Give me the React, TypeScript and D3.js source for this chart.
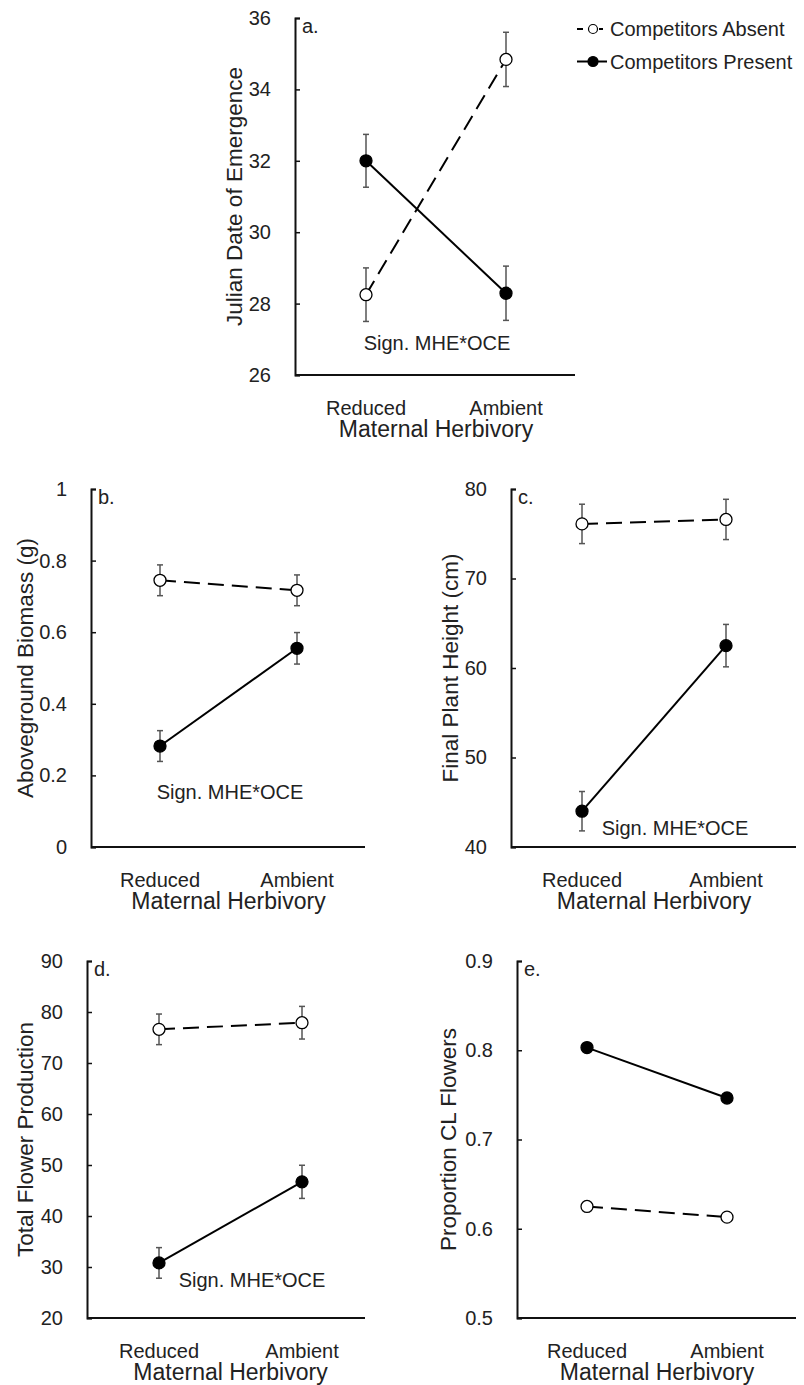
import React, { useEffect, useRef } from 'react';
import * as d3 from 'd3';

// data
const categories = ['Reduced', 'Ambient'];
const seriesNames = ['Competitors Absent', 'Competitors Present'];

const emergenceAbsent = [28.25, 34.84];
const emergenceAbsentErr = [0.75, 0.76];
const emergencePresent = [32.0, 28.29];
const emergencePresentErr = [0.74, 0.76];

const biomassAbsent = [0.745, 0.717];
const biomassAbsentErr = [0.043, 0.043];
const biomassPresent = [0.282, 0.555];
const biomassPresentErr = [0.043, 0.044];

const heightAbsent = [76.1, 76.6];
const heightAbsentErr = [2.2, 2.25];
const heightPresent = [44.0, 62.5];
const heightPresentErr = [2.2, 2.37];

const flowersAbsent = [76.6, 77.9];
const flowersAbsentErr = [3.0, 3.2];
const flowersPresent = [30.8, 46.7];
const flowersPresentErr = [3.0, 3.25];

const clAbsent = [0.625, 0.613];
const clPresent = [0.803, 0.7465];

const emergenceTicks = [26, 28, 30, 32, 34, 36];
const biomassTicks = [0, 0.2, 0.4, 0.6, 0.8, 1];
const heightTicks = [40, 50, 60, 70, 80];
const flowersTicks = [20, 30, 40, 50, 60, 70, 80, 90];
const clTicks = [0.5, 0.6, 0.7, 0.8, 0.9];

const xTitle = 'Maternal Herbivory';
const noteText = 'Sign. MHE*OCE';

const FONT = '"Liberation Sans", Arial, Helvetica, sans-serif';

// panel layout (pixels)
const panels = [
  {
    tag: 'a.', title: 'Julian Date of Emergence', domain: [26, 36], ticks: emergenceTicks, fmt: (d) => String(d),
    absent: emergenceAbsent, absentErr: emergenceAbsentErr, present: emergencePresent, presentErr: emergencePresentErr,
    left: 295, right: 575, top: 18, bottom: 375, cats: [366, 506], titleOff: 61, note: { x: 437, y: 350 },
  },
  {
    tag: 'b.', title: 'Aboveground Biomass (g)', domain: [0, 1], ticks: biomassTicks, fmt: (d) => String(d),
    absent: biomassAbsent, absentErr: biomassAbsentErr, present: biomassPresent, presentErr: biomassPresentErr,
    left: 91, right: 365, top: 489, bottom: 847, cats: [160, 297], titleOff: 66, note: { x: 230, y: 799 },
  },
  {
    tag: 'c.', title: 'Final Plant Height (cm)', domain: [40, 80], ticks: heightTicks, fmt: (d) => String(d),
    absent: heightAbsent, absentErr: heightAbsentErr, present: heightPresent, presentErr: heightPresentErr,
    left: 511, right: 796, top: 489, bottom: 847, cats: [582, 726], titleOff: 61, note: { x: 675, y: 835 },
  },
  {
    tag: 'd.', title: 'Total Flower Production', domain: [20, 90], ticks: flowersTicks, fmt: (d) => String(d),
    absent: flowersAbsent, absentErr: flowersAbsentErr, present: flowersPresent, presentErr: flowersPresentErr,
    left: 87, right: 365, top: 961, bottom: 1318, cats: [159, 302], titleOff: 62, note: { x: 252, y: 1287 },
  },
  {
    tag: 'e.', title: 'Proportion CL Flowers', domain: [0.5, 0.9], ticks: clTicks, fmt: d3.format('.1f'),
    absent: clAbsent, absentErr: null, present: clPresent, presentErr: null,
    left: 517, right: 796, top: 961, bottom: 1318, cats: [587, 727], titleOff: 69, note: null,
  },
];

const drawPanel = (svg, p) => {
  const x = d3.scalePoint().domain(categories).range(p.cats);
  const y = d3.scaleLinear().domain(p.domain).range([p.bottom, p.top]);
  const g = svg.append('g');

  // y axis with inside ticks
  const yAxis = d3.axisLeft(y).tickValues(p.ticks).tickFormat(p.fmt).tickSizeInner(-5).tickSizeOuter(-5).tickPadding(24);
  const ya = g.append('g').attr('transform', `translate(${p.left},0)`).call(yAxis);
  ya.select('.domain').attr('stroke', '#111').attr('stroke-width', 2);
  ya.selectAll('.tick line').attr('stroke', '#111').attr('stroke-width', 1.5);
  ya.selectAll('.tick text')
    .attr('font-family', FONT)
    .attr('font-size', 20)
    .attr('fill', '#222');

  // x axis, no ticks
  g.append('line')
    .attr('x1', p.left).attr('x2', p.right)
    .attr('y1', p.bottom).attr('y2', p.bottom)
    .attr('stroke', '#111').attr('stroke-width', 2);

  g.selectAll('.cat')
    .data(categories)
    .enter()
    .append('text')
    .attr('x', (d) => x(d))
    .attr('y', p.bottom + 40)
    .attr('text-anchor', 'middle')
    .attr('font-family', FONT)
    .attr('font-size', 20)
    .attr('fill', '#222')
    .text((d) => d);

  g.append('text')
    .attr('x', (p.cats[0] + p.cats[1]) / 2)
    .attr('y', p.bottom + 62)
    .attr('text-anchor', 'middle')
    .attr('font-family', FONT)
    .attr('font-size', 23)
    .attr('fill', '#222')
    .text(xTitle);

  // y title
  const cy = (p.top + p.bottom) / 2;
  g.append('text')
    .attr('transform', `translate(${p.left - p.titleOff},${cy}) rotate(-90)`)
    .attr('text-anchor', 'middle')
    .attr('dominant-baseline', 'central')
    .attr('font-family', FONT)
    .attr('font-size', 22.5)
    .attr('fill', '#222')
    .text(p.title);

  // panel tag
  g.append('text')
    .attr('x', p.left + 7)
    .attr('y', p.top + 15)
    .attr('font-family', FONT)
    .attr('font-size', 20)
    .attr('fill', '#222')
    .text(p.tag);

  if (p.note) {
    g.append('text')
      .attr('x', p.note.x)
      .attr('y', p.note.y)
      .attr('text-anchor', 'middle')
      .attr('font-family', FONT)
      .attr('font-size', 20)
      .attr('fill', '#222')
      .text(noteText);
  }

  const series = [
    { vals: p.absent, errs: p.absentErr, dash: '16,8', fill: '#fff' },
    { vals: p.present, errs: p.presentErr, dash: null, fill: '#000' },
  ];

  // error bars
  series.forEach((s) => {
    if (!s.errs) return;
    categories.forEach((c, i) => {
      const cx = x(c);
      const y1 = y(s.vals[i] + s.errs[i]);
      const y2 = y(s.vals[i] - s.errs[i]);
      g.append('line').attr('x1', cx).attr('x2', cx).attr('y1', y1).attr('y2', y2)
        .attr('stroke', '#555').attr('stroke-width', 1.5);
      [y1, y2].forEach((yy) => {
        g.append('line').attr('x1', cx - 3).attr('x2', cx + 3).attr('y1', yy).attr('y2', yy)
          .attr('stroke', '#555').attr('stroke-width', 1.5);
      });
    });
  });

  const line = d3.line().x((d) => x(d[0])).y((d) => y(d[1]));
  series.forEach((s) => {
    g.append('path')
      .attr('d', line(categories.map((c, i) => [c, s.vals[i]])))
      .attr('fill', 'none')
      .attr('stroke', '#000')
      .attr('stroke-width', 2)
      .attr('stroke-dasharray', s.dash);
  });

  series.forEach((s) => {
    g.selectAll(null)
      .data(categories)
      .enter()
      .append('circle')
      .attr('cx', (d) => x(d))
      .attr('cy', (d, i) => y(s.vals[i]))
      .attr('r', 6)
      .attr('fill', s.fill)
      .attr('stroke', '#000')
      .attr('stroke-width', 1.3);
  });
};

const App = () => {
  const svgRef = useRef(null);

  useEffect(() => {
    const svg = d3.select(svgRef.current);
    svg.selectAll('*').remove();

    panels.forEach((p) => drawPanel(svg, p));

    // legend
    const legendRows = [
      { name: seriesNames[0], y: 29, fill: '#fff', dash: '6,5', r: 4.5 },
      { name: seriesNames[1], y: 61.5, fill: '#000', dash: null, r: 5 },
    ];
    const lg = svg.append('g');
    legendRows.forEach((row) => {
      lg.append('line')
        .attr('x1', 577).attr('x2', row.dash ? 603 : 607)
        .attr('y1', row.y).attr('y2', row.y)
        .attr('stroke', '#000').attr('stroke-width', 2)
        .attr('stroke-dasharray', row.dash);
      lg.append('circle')
        .attr('cx', 593).attr('cy', row.y).attr('r', row.r)
        .attr('fill', row.fill).attr('stroke', '#000').attr('stroke-width', 1.2);
      lg.append('text')
        .attr('x', 610).attr('y', row.y)
        .attr('dominant-baseline', 'central')
        .attr('font-family', FONT)
        .attr('font-size', 20)
        .attr('fill', '#222')
        .text(row.name);
    });
  }, []);

  return (
    <div style={{ position: 'absolute', left: 0, top: 0, background: '#fff' }}>
      <svg ref={svgRef} width={804} height={1385} style={{ display: 'block' }} />
    </div>
  );
};

export default App;
